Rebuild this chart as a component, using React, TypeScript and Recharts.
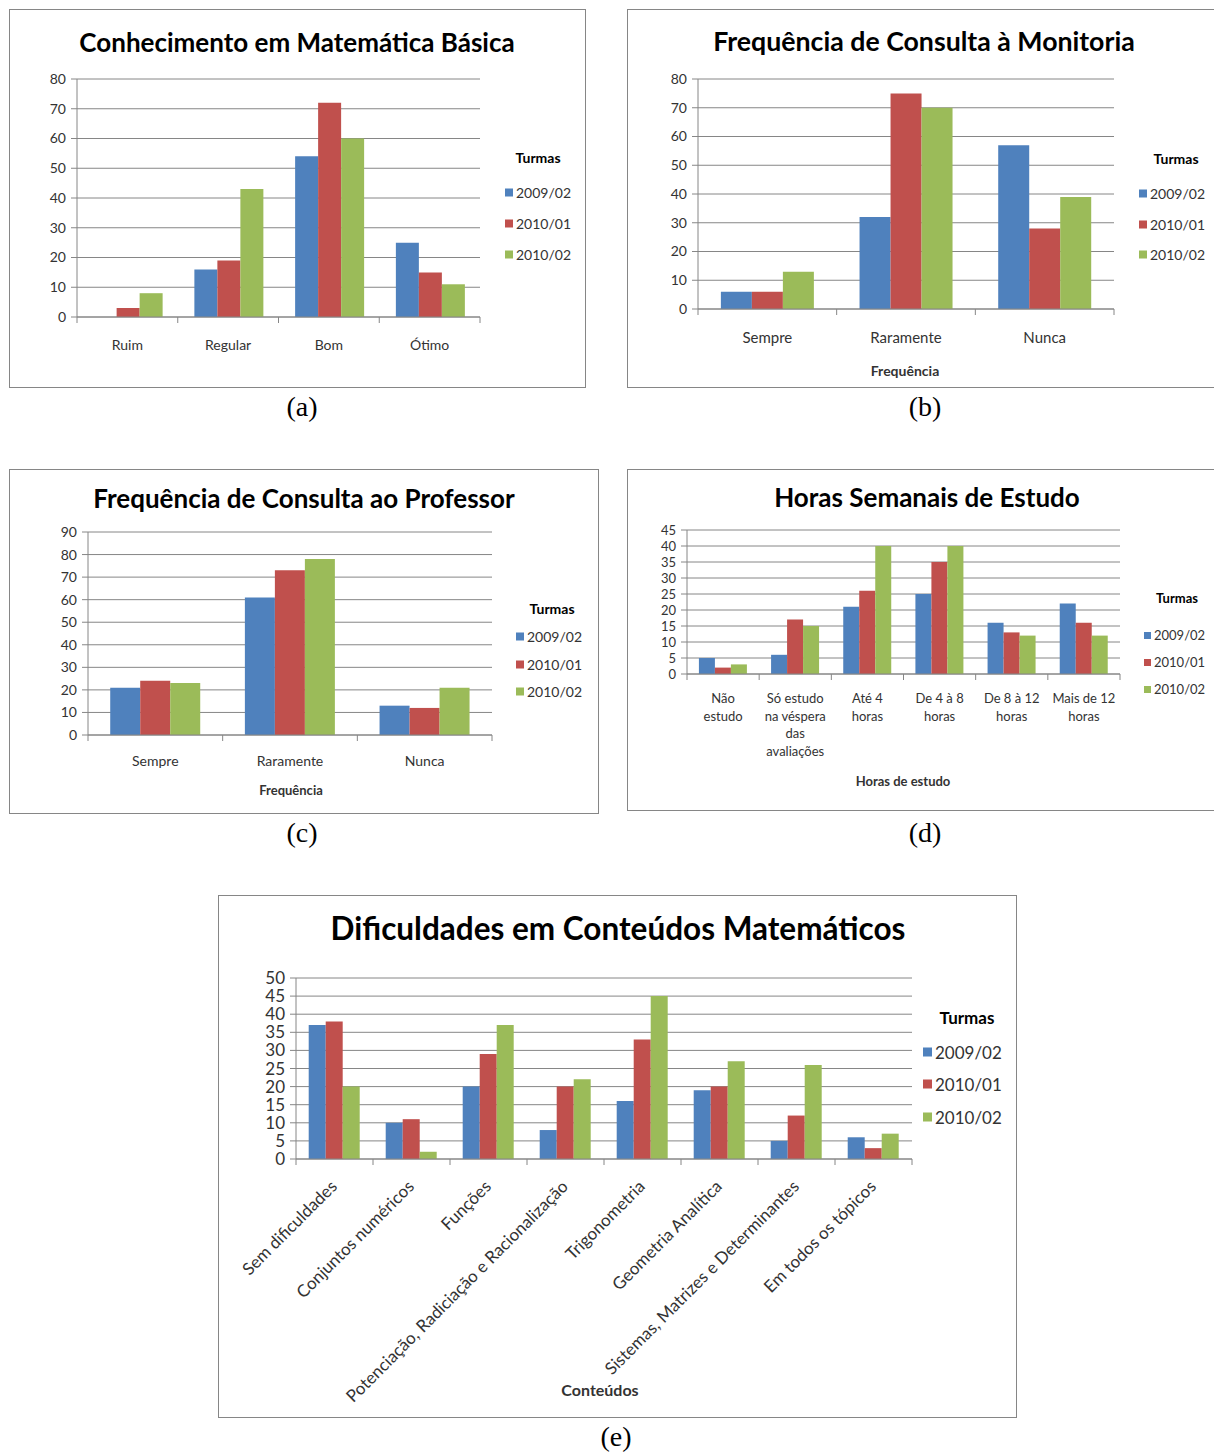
import React from 'react';
import { BarChart, Bar, XAxis, YAxis, CartesianGrid } from 'recharts';

const AZUL = '#4F81BD';
const VERMELHO = '#C0504D';
const VERDE = '#9BBB59';
const CINZA = '#868686';
const TEXTO = '#333333';
const FONTE = 'Lato, "Open Sans", sans-serif';

const turmas = ['2009/02', '2010/01', '2010/02'];
const coresTurmas = [AZUL, VERMELHO, VERDE];

// (a) Conhecimento em Matemática Básica
const conhecimentoCategorias = ['Ruim', 'Regular', 'Bom', 'Ótimo'];
const conhecimento2009_02 = [0, 16, 54, 25];
const conhecimento2010_01 = [3, 19, 72, 15];
const conhecimento2010_02 = [8, 43, 60, 11];
const conhecimentoTicks = [0, 10, 20, 30, 40, 50, 60, 70, 80];

// (b) Frequência de Consulta à Monitoria
const monitoriaCategorias = ['Sempre', 'Raramente', 'Nunca'];
const monitoria2009_02 = [6, 32, 57];
const monitoria2010_01 = [6, 75, 28];
const monitoria2010_02 = [13, 70, 39];
const monitoriaTicks = [0, 10, 20, 30, 40, 50, 60, 70, 80];

// (c) Frequência de Consulta ao Professor
const professorCategorias = ['Sempre', 'Raramente', 'Nunca'];
const professor2009_02 = [21, 61, 13];
const professor2010_01 = [24, 73, 12];
const professor2010_02 = [23, 78, 21];
const professorTicks = [0, 10, 20, 30, 40, 50, 60, 70, 80, 90];

// (d) Horas Semanais de Estudo
const horasCategorias = [
  'Não\nestudo',
  'Só estudo\nna véspera\ndas\navaliações',
  'Até 4\nhoras',
  'De 4 à 8\nhoras',
  'De 8 à 12\nhoras',
  'Mais de 12\nhoras',
];
const horas2009_02 = [5, 6, 21, 25, 16, 22];
const horas2010_01 = [2, 17, 26, 35, 13, 16];
const horas2010_02 = [3, 15, 40, 40, 12, 12];
const horasTicks = [0, 5, 10, 15, 20, 25, 30, 35, 40, 45];

// (e) Dificuldades em Conteúdos Matemáticos
const conteudosCategorias = [
  'Sem dificuldades',
  'Conjuntos numéricos',
  'Funções',
  'Potenciação, Radiciação e Racionalização',
  'Trigonometria',
  'Geometria Analítica',
  'Sistemas, Matrizes e Determinantes',
  'Em todos os tópicos',
];
const conteudos2009_02 = [37, 10, 20, 8, 16, 19, 5, 6];
const conteudos2010_01 = [38, 11, 29, 20, 33, 20, 12, 3];
const conteudos2010_02 = [20, 2, 37, 22, 45, 27, 26, 7];
const conteudosTicks = [0, 5, 10, 15, 20, 25, 30, 35, 40, 45, 50];

const montarLinhas = (categorias: string[], valores: number[][]) =>
  categorias.map((categoria, i) => {
    const linha: Record<string, string | number> = { categoria };
    valores.forEach((serie, j) => {
      linha[`t${j}`] = serie[i];
    });
    return linha;
  });

type Modo = 'simples' | 'linhas' | 'girado';

interface PainelProps {
  left: number;
  top: number;
  width: number;
  height: number;
  titulo: string;
  tituloPos: [number, number];
  tituloTamanho: number;
  dados: Record<string, string | number>[];
  ticks: number[];
  area: { left: number; top: number; right: number; bottom: number };
  fonteY: number;
  fonteX: number;
  modo: Modo;
  deslocX: number;
  entreLinhas?: number;
  eixoTitulo?: string;
  eixoTituloPos?: [number, number];
  eixoTituloTamanho?: number;
  legenda: { quadradoX: number; tituloPos: [number, number]; itensY: number[]; tamanho: number };
}

const Painel: React.FC<PainelProps> = (p) => {
  const chartW = p.width - 2;
  const chartH = p.height - 2;
  const n = p.dados.length;
  const faixa = (p.area.right - p.area.left) / n;
  const larguraY = 50;
  const alturaX = 20;

  // category labels plus the boundary tick marks Excel draws between groups
  const renderTick = (props: any) => {
    const { x, y, payload, index } = props;
    const texto: string = String(payload.value);
    let rotulo: React.ReactNode;
    if (p.modo === 'girado') {
      rotulo = (
        <text
          transform={`translate(${x - 1},${y + p.deslocX}) rotate(-45)`}
          textAnchor="end"
          dominantBaseline="central"
          fontSize={p.fonteX}
          fontFamily={FONTE}
          fill={TEXTO}
        >
          {texto}
        </text>
      );
    } else {
      const linhas = p.modo === 'linhas' ? texto.split('\n') : [texto];
      rotulo = (
        <text
          x={x}
          y={y + p.deslocX}
          textAnchor="middle"
          dominantBaseline="central"
          fontSize={p.fonteX}
          fontFamily={FONTE}
          fill={TEXTO}
        >
          {linhas.map((l, i) => (
            <tspan key={i} x={x} dy={i === 0 ? 0 : p.entreLinhas ?? 18}>
              {l}
            </tspan>
          ))}
        </text>
      );
    }
    return (
      <g>
        <line x1={x - faixa / 2} y1={y} x2={x - faixa / 2} y2={y + 6} stroke={CINZA} />
        {index === n - 1 && <line x1={x + faixa / 2} y1={y} x2={x + faixa / 2} y2={y + 6} stroke={CINZA} />}
        {rotulo}
      </g>
    );
  };

  const centrado = (pos: [number, number]): React.CSSProperties => ({
    position: 'absolute',
    left: pos[0],
    top: pos[1],
    transform: 'translate(-50%, -50%)',
    whiteSpace: 'nowrap',
  });

  return (
    <div
      style={{
        position: 'absolute',
        left: p.left,
        top: p.top,
        width: p.width,
        height: p.height,
        border: `1px solid ${CINZA}`,
        boxSizing: 'border-box',
        background: '#fff',
      }}
    >
      <BarChart
        width={chartW}
        height={chartH}
        data={p.dados}
        barGap={0}
        barCategoryGap="16.5%"
        margin={{
          top: p.area.top,
          left: p.area.left - larguraY,
          right: chartW - p.area.right,
          bottom: chartH - p.area.bottom - alturaX,
        }}
      >
        <CartesianGrid vertical={false} stroke={CINZA} />
        <XAxis
          dataKey="categoria"
          height={alturaX}
          interval={0}
          tickLine={false}
          tickSize={0}
          tickMargin={0}
          axisLine={{ stroke: CINZA }}
          tick={renderTick}
        />
        <YAxis
          width={larguraY}
          domain={[p.ticks[0], p.ticks[p.ticks.length - 1]]}
          ticks={p.ticks}
          interval={0}
          tickSize={6}
          tickMargin={5}
          axisLine={{ stroke: CINZA }}
          tickLine={{ stroke: CINZA }}
          tick={{ fontSize: p.fonteY, fontFamily: FONTE, fill: TEXTO }}
        />
        {turmas.map((t, i) => (
          <Bar key={t} dataKey={`t${i}`} name={t} fill={coresTurmas[i]} isAnimationActive={false} />
        ))}
      </BarChart>
      <div
        style={{
          ...centrado(p.tituloPos),
          fontFamily: FONTE,
          fontWeight: 700,
          fontSize: p.tituloTamanho,
          color: '#000',
        }}
      >
        {p.titulo}
      </div>
      {p.eixoTitulo && p.eixoTituloPos && (
        <div
          style={{
            ...centrado(p.eixoTituloPos),
            fontFamily: FONTE,
            fontWeight: 700,
            fontSize: p.eixoTituloTamanho ?? 14,
            color: TEXTO,
          }}
        >
          {p.eixoTitulo}
        </div>
      )}
      <div
        style={{
          ...centrado(p.legenda.tituloPos),
          fontFamily: FONTE,
          fontWeight: 700,
          fontSize: p.legenda.tamanho,
          color: '#000',
        }}
      >
        Turmas
      </div>
      {turmas.map((t, i) => (
        <div
          key={t}
          style={{
            position: 'absolute',
            left: p.legenda.quadradoX,
            top: p.legenda.itensY[i],
            transform: 'translateY(-50%)',
            display: 'flex',
            alignItems: 'center',
            gap: 3,
            fontFamily: FONTE,
            fontSize: p.legenda.tamanho,
            color: TEXTO,
            whiteSpace: 'nowrap',
          }}
        >
          <span
            style={{
              display: 'inline-block',
              width: Math.round(p.legenda.tamanho * 0.55),
              height: Math.round(p.legenda.tamanho * 0.55),
              background: coresTurmas[i],
            }}
          />
          {t}
        </div>
      ))}
    </div>
  );
};

const Legenda: React.FC<{ texto: string; x: number; y: number }> = ({ texto, x, y }) => (
  <div
    style={{
      position: 'absolute',
      left: x,
      top: y,
      transform: 'translate(-50%, -50%)',
      fontFamily: '"Liberation Serif", "Times New Roman", serif',
      fontSize: 28,
      color: '#000',
    }}
  >
    {texto}
  </div>
);

export default function App() {
  const vals = (a: number[], b: number[], c: number[]) => [a, b, c];
  return (
    <div
      style={{
        position: 'absolute',
        left: 0,
        top: 0,
        width: 1214,
        height: 1452,
        overflow: 'hidden',
        background: '#fff',
      }}
    >
      <Painel
        left={9}
        top={9}
        width={577}
        height={379}
        titulo="Conhecimento em Matemática Básica"
        tituloPos={[287, 32]}
        tituloTamanho={26}
        dados={montarLinhas(conhecimentoCategorias, vals(conhecimento2009_02, conhecimento2010_01, conhecimento2010_02))}
        ticks={conhecimentoTicks}
        area={{ left: 67, top: 69, right: 470, bottom: 307 }}
        fonteY={14}
        fonteX={14}
        modo="simples"
        deslocX={27}
        legenda={{ quadradoX: 495, tituloPos: [528, 147], itensY: [182, 213, 244], tamanho: 14 }}
      />
      <Painel
        left={627}
        top={9}
        width={600}
        height={379}
        titulo="Frequência de Consulta à Monitoria"
        tituloPos={[296, 31]}
        tituloTamanho={26.7}
        dados={montarLinhas(monitoriaCategorias, vals(monitoria2009_02, monitoria2010_01, monitoria2010_02))}
        ticks={monitoriaTicks}
        area={{ left: 70, top: 69, right: 486, bottom: 299 }}
        fonteY={14}
        fonteX={15}
        modo="simples"
        deslocX={28}
        eixoTitulo="Frequência"
        eixoTituloPos={[277, 360]}
        legenda={{ quadradoX: 511, tituloPos: [548, 148], itensY: [183, 214, 244], tamanho: 14 }}
      />
      <Painel
        left={9}
        top={469}
        width={590}
        height={345}
        titulo="Frequência de Consulta ao Professor"
        tituloPos={[294, 28]}
        tituloTamanho={26}
        dados={montarLinhas(professorCategorias, vals(professor2009_02, professor2010_01, professor2010_02))}
        ticks={professorTicks}
        area={{ left: 78, top: 62, right: 482, bottom: 265 }}
        fonteY={14}
        fonteX={14}
        modo="simples"
        deslocX={25}
        eixoTitulo="Frequência"
        eixoTituloPos={[281, 320]}
        eixoTituloTamanho={13}
        legenda={{ quadradoX: 506, tituloPos: [542, 138], itensY: [166, 194, 221], tamanho: 14 }}
      />
      <Painel
        left={627}
        top={469}
        width={600}
        height={342}
        titulo="Horas Semanais de Estudo"
        tituloPos={[299, 27]}
        tituloTamanho={26}
        dados={montarLinhas(horasCategorias, vals(horas2009_02, horas2010_01, horas2010_02))}
        ticks={horasTicks}
        area={{ left: 59, top: 60, right: 492, bottom: 204 }}
        fonteY={13}
        fonteX={13}
        modo="linhas"
        deslocX={24}
        entreLinhas={17.7}
        eixoTitulo="Horas de estudo"
        eixoTituloPos={[275, 311]}
        eixoTituloTamanho={13}
        legenda={{ quadradoX: 516, tituloPos: [549, 128], itensY: [165, 192, 219], tamanho: 13 }}
      />
      <Painel
        left={218}
        top={895}
        width={799}
        height={523}
        titulo="Dificuldades em Conteúdos Matemáticos"
        tituloPos={[399, 32]}
        tituloTamanho={31.5}
        dados={montarLinhas(conteudosCategorias, vals(conteudos2009_02, conteudos2010_01, conteudos2010_02))}
        ticks={conteudosTicks}
        area={{ left: 77, top: 82, right: 693, bottom: 263 }}
        fonteY={17}
        fonteX={17}
        modo="girado"
        deslocX={24}
        eixoTitulo="Conteúdos"
        eixoTituloPos={[381, 493]}
        eixoTituloTamanho={16}
        legenda={{ quadradoX: 704, tituloPos: [748, 121], itensY: [156, 188, 221], tamanho: 17 }}
      />
      <Legenda texto="(a)" x={302} y={407} />
      <Legenda texto="(b)" x={925} y={407} />
      <Legenda texto="(c)" x={302} y={833} />
      <Legenda texto="(d)" x={925} y={833} />
      <Legenda texto="(e)" x={616} y={1437} />
    </div>
  );
}
